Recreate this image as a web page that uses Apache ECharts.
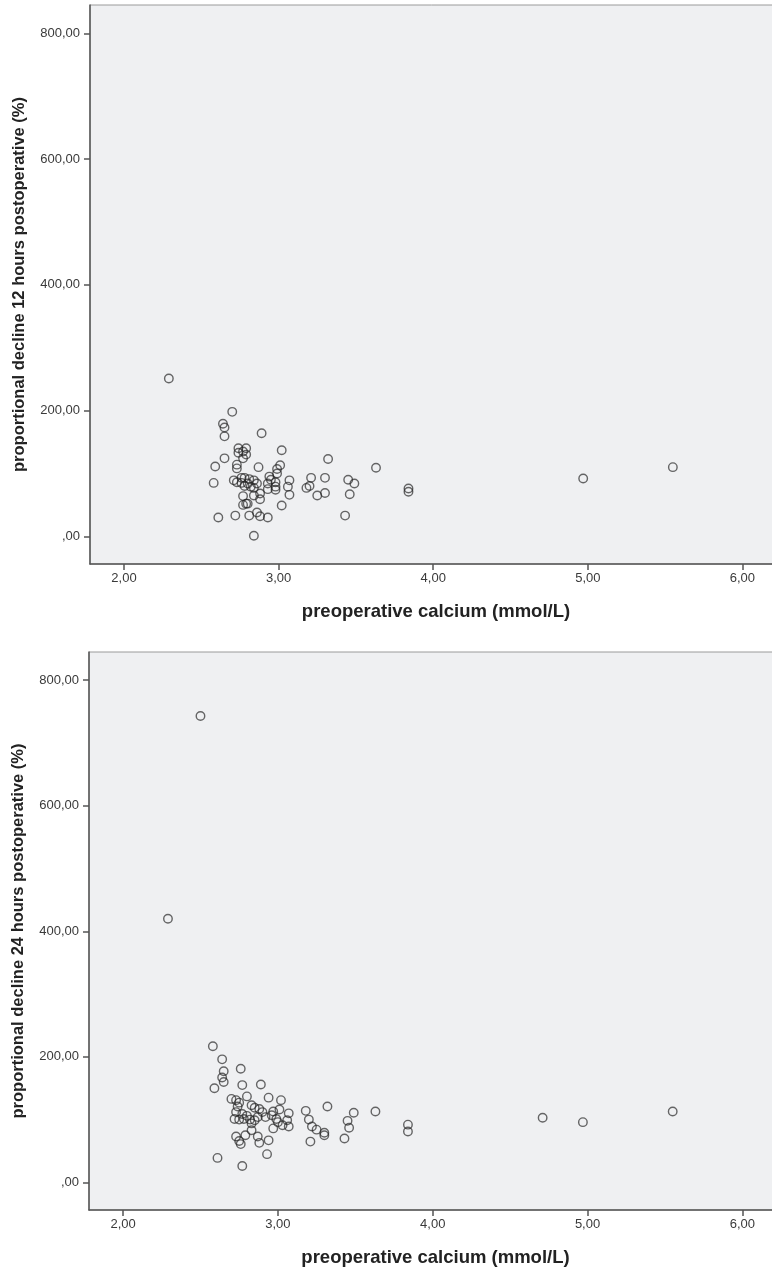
<!DOCTYPE html>
<html>
<head>
<meta charset="utf-8">
<script src="https://cdn.jsdelivr.net/npm/echarts@6/dist/echarts.min.js"></script>
<style>
  html, body { margin: 0; padding: 0; background: #ffffff; }
  #chart { width: 772px; height: 1272px; }
</style>
</head>
<body>
<div id="chart"></div>
<script>
// Preoperative calcium vs proportional decline, 12 h postoperative
const calcium12 = [2.29, 2.70, 2.64, 2.65, 2.65, 2.89, 2.74, 2.79, 2.74, 2.77, 2.79, 2.77, 3.02, 2.65,
  2.59, 2.73, 2.73, 2.87, 3.01, 2.99, 2.99, 2.58, 2.71, 2.73, 2.76, 2.78, 2.81, 2.84, 2.86, 2.78,
  2.82, 2.76, 2.80, 2.84, 2.88, 2.77, 2.84, 2.88, 2.77, 2.79, 2.80, 2.94, 2.95, 2.93, 2.98, 2.98,
  2.98, 2.93, 3.07, 3.06, 3.07, 3.02, 2.61, 2.72, 2.81, 2.86, 2.88, 2.93, 2.84, 3.18, 3.20, 3.21,
  3.32, 3.30, 3.25, 3.30, 3.45, 3.49, 3.46, 3.43, 3.63, 3.84, 3.84, 4.97, 5.55];
const decline12 = [251, 198, 179, 173, 159, 164, 140, 140, 133, 135, 130, 124, 137, 124,
  111, 114, 108, 110, 113, 107, 100, 85, 89, 86, 93, 93, 91, 89, 84, 80,
  79, 85, 84, 77, 68, 64, 65, 59, 50, 52, 52, 95, 90, 84, 86, 79,
  74, 75, 89, 79, 66, 49, 30, 33, 33, 38, 32, 30, 1, 77, 80, 93,
  123, 93, 65, 69, 90, 84, 67, 33, 109, 76, 71, 92, 110];

// Preoperative calcium vs proportional decline, 24 h postoperative
const calcium24 = [2.50, 2.29, 2.58, 2.64, 2.65, 2.64, 2.65, 2.59, 2.76, 2.77, 2.89, 2.94, 3.02, 2.70,
  2.73, 2.75, 2.80, 2.83, 2.85, 2.88, 2.72, 2.75, 2.78, 2.82, 2.85, 2.87, 2.73, 2.77, 2.92, 2.96,
  2.99, 3.01, 3.07, 3.06, 3.07, 3.03, 3.00, 2.97, 3.18, 3.20, 3.22, 3.25, 3.30, 3.30, 3.32, 3.21,
  3.49, 3.45, 3.46, 3.43, 3.63, 3.84, 3.84, 2.73, 2.75, 2.79, 2.83, 2.87, 2.88, 2.94, 2.93, 2.76,
  2.61, 2.77, 4.71, 4.97, 5.55, 2.74, 2.80, 2.90, 2.97, 2.83];
const decline24 = [743, 420, 217, 196, 177, 167, 160, 150, 181, 155, 156, 135, 131, 133,
  131, 127, 137, 123, 119, 117, 101, 100, 101, 100, 99, 104, 112, 109, 104, 107,
  101, 116, 110, 99, 89, 91, 96, 86, 114, 100, 89, 84, 79, 75, 121, 65,
  111, 98, 87, 70, 113, 92, 81, 73, 66, 75, 83, 73, 63, 67, 45, 61,
  39, 26, 103, 96, 113, 121, 106, 112, 113, 94];

// Axis ticks
const xTicks = [2, 3, 4, 5, 6];
const yTicks = [0, 200, 400, 600, 800];

const xTitle = 'preoperative calcium (mmol/L)';
const yTitle12 = 'proportional decline 12 hours postoperative (%)';
const yTitle24 = 'proportional decline 24 hours postoperative (%)';

const pairs = (xs, ys) => xs.map((x, i) => [x, ys[i]]);
const comma = v => {
  const s = v.toFixed(2).replace('.', ',');
  return s.startsWith('0,') ? s.slice(1) : s;
};

const axisColor = '#555555';
const labelFont = { fontFamily: 'Liberation Sans, Arial, sans-serif', fontSize: 13, color: '#3a3a3a' };

// The plot panel runs past the right edge of the page, so its right side is open.
function xAxisFor(gridIndex) {
  return {
    type: 'value', gridIndex, min: 1.78, max: 6.256,
    name: xTitle, nameLocation: 'middle', nameGap: 38,
    nameTextStyle: { fontFamily: 'Liberation Sans, Arial, sans-serif', fontWeight: 'bold', fontSize: 18.5, color: '#222222' },
    axisLine: { show: true, onZero: false, lineStyle: { color: axisColor, width: 1.5 } },
    axisTick: { show: true, customValues: xTicks, length: 6, lineStyle: { color: axisColor, width: 1.5 } },
    axisLabel: Object.assign({ customValues: xTicks, margin: 8, formatter: comma }, labelFont),
    splitLine: { show: false }
  };
}

function yAxisFor(gridIndex, title) {
  return {
    type: 'value', gridIndex, min: -44, max: 845,
    name: title, nameLocation: 'middle', nameGap: 62, nameRotate: 90,
    nameTextStyle: { fontFamily: 'Liberation Sans, Arial, sans-serif', fontWeight: 'bold', fontSize: 16.5, color: '#222222' },
    axisLine: { show: true, onZero: false, lineStyle: { color: axisColor, width: 1.5 } },
    axisTick: { show: true, customValues: yTicks, length: 6, lineStyle: { color: axisColor, width: 1.5 } },
    axisLabel: Object.assign({ customValues: yTicks, margin: 10, formatter: comma }, labelFont),
    splitLine: { show: false }
  };
}

const gridStyle = {
  show: true, backgroundColor: '#eff0f2', borderColor: '#9a9a9a', borderWidth: 1,
  containLabel: false, outerBoundsMode: 'none'
};

function scatterFor(idx, data) {
  return {
    type: 'scatter', xAxisIndex: idx, yAxisIndex: idx,
    data, symbol: 'circle', symbolSize: 8.5,
    itemStyle: { color: 'rgba(0,0,0,0)', borderColor: 'rgba(35,35,35,0.85)', borderWidth: 1.4 },
    emphasis: { disabled: true },
    silent: true
  };
}

const chart = echarts.init(document.getElementById('chart'), null, { renderer: 'canvas' });
chart.setOption({
  animation: false,
  backgroundColor: '#ffffff',
  grid: [
    Object.assign({ left: 90, top: 5, width: 692, height: 559 }, gridStyle),
    Object.assign({ left: 89, top: 652, width: 693, height: 558 }, gridStyle)
  ],
  xAxis: [xAxisFor(0), xAxisFor(1)],
  yAxis: [yAxisFor(0, yTitle12), yAxisFor(1, yTitle24)],
  series: [scatterFor(0, pairs(calcium12, decline12)), scatterFor(1, pairs(calcium24, decline24))]
});
</script>
</body>
</html>
